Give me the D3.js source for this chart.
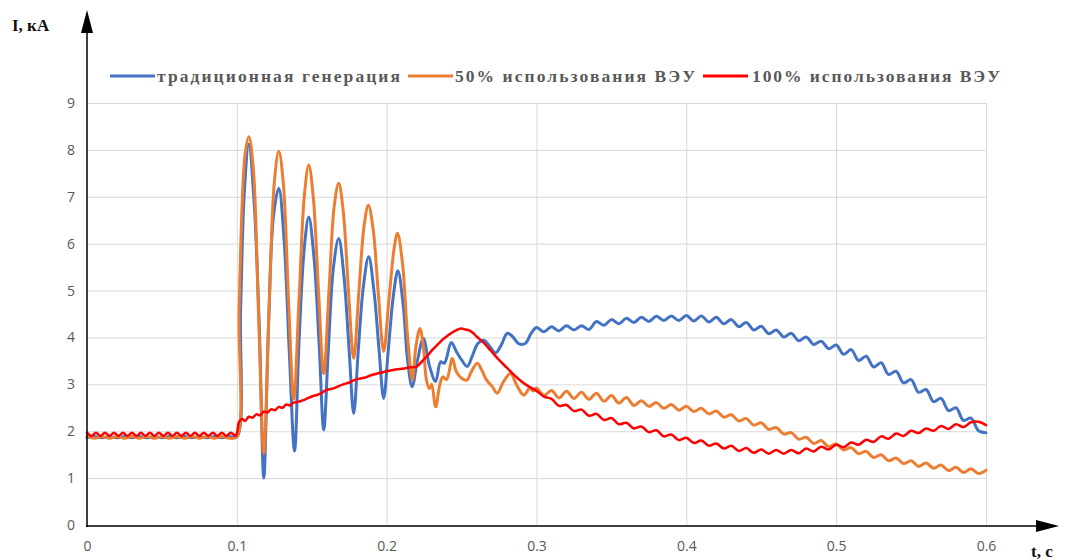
<!DOCTYPE html>
<html>
<head>
<meta charset="utf-8">
<script src="https://cdn.jsdelivr.net/npm/d3@7/dist/d3.min.js"></script>
<style>
  html, body { margin: 0; padding: 0; background: #fff; }
  svg { display: block; }
</style>
</head>
<body>
<svg id="chart" width="1073" height="560"></svg>
<script>
// Short-circuit current I (kA) versus time t (s) for three generation mixes.

const seriesLabels = ["традиционная генерация", "50% использования ВЭУ", "100% использования ВЭУ"];
const seriesColors = ["#4472C4", "#ED7D31", "#FF0000"];
const xTicks = [0, 0.1, 0.2, 0.3, 0.4, 0.5, 0.6];
const yTicks = [0, 1, 2, 3, 4, 5, 6, 7, 8, 9];
const yTitle = "I, кА";
const xTitle = "t, c";

// Traditional generation: [t, I]
const traditional = [
  [0.000, 1.86], [0.005, 1.89], [0.010, 1.86], [0.015, 1.89], [0.020, 1.86], [0.025, 1.89],
  [0.030, 1.86], [0.035, 1.89], [0.040, 1.86], [0.045, 1.89], [0.050, 1.86], [0.055, 1.89],
  [0.060, 1.86], [0.065, 1.89], [0.070, 1.86], [0.075, 1.89], [0.080, 1.86], [0.085, 1.89],
  [0.090, 1.86], [0.095, 1.89], [0.100, 1.88],
  [0.1025, 4.6], [0.105, 7.1], [0.108, 8.12], [0.1115, 6.9], [0.115, 4.2], [0.118, 1.00],
  [0.121, 4.1], [0.1245, 6.6], [0.128, 7.18], [0.1315, 6.1], [0.135, 3.7], [0.1385, 1.58],
  [0.1415, 3.9], [0.145, 5.9], [0.148, 6.57], [0.1515, 5.7], [0.155, 3.8], [0.158, 2.03],
  [0.161, 3.7], [0.1645, 5.5], [0.168, 6.11], [0.1715, 5.3], [0.175, 3.7], [0.178, 2.38],
  [0.181, 3.7], [0.1845, 5.1], [0.188, 5.72], [0.1915, 5.0], [0.195, 3.7], [0.198, 2.70],
  [0.201, 3.7], [0.2045, 4.9], [0.2075, 5.42], [0.211, 4.7], [0.214, 3.5], [0.217, 2.95],
  [0.2205, 3.5], [0.2245, 3.98], [0.2285, 3.4], [0.2327, 3.06], [0.236, 3.48], [0.2385, 3.45],
  [0.2431, 3.89], [0.2465, 3.70], [0.250, 3.52], [0.2538, 3.38], [0.257, 3.59], [0.2609, 3.87],
  [0.2649, 3.94], [0.2689, 3.80], [0.2727, 3.67], [0.2765, 3.84], [0.2805, 4.09], [0.284, 4.02],
  [0.288, 3.87], [0.2925, 3.87], [0.2965, 4.09],
  [0.300, 4.21], [0.305, 4.12], [0.310, 4.23], [0.315, 4.14], [0.320, 4.25], [0.325, 4.16],
  [0.330, 4.25], [0.335, 4.17], [0.340, 4.34], [0.345, 4.26], [0.350, 4.38], [0.355, 4.29],
  [0.360, 4.41], [0.365, 4.32], [0.370, 4.43], [0.375, 4.34], [0.380, 4.45], [0.385, 4.36],
  [0.390, 4.46], [0.395, 4.36], [0.400, 4.47], [0.405, 4.35], [0.410, 4.46], [0.415, 4.33],
  [0.420, 4.43], [0.425, 4.29], [0.430, 4.38], [0.435, 4.23], [0.440, 4.32], [0.445, 4.16],
  [0.450, 4.24], [0.455, 4.08], [0.460, 4.16], [0.465, 4.01], [0.470, 4.09], [0.475, 3.93],
  [0.480, 4.01], [0.485, 3.85], [0.490, 3.92], [0.495, 3.76], [0.500, 3.84], [0.505, 3.64],
  [0.510, 3.74], [0.515, 3.51], [0.520, 3.60], [0.525, 3.37], [0.530, 3.46], [0.535, 3.21],
  [0.540, 3.28], [0.545, 3.03], [0.550, 3.10], [0.555, 2.83], [0.560, 2.89], [0.565, 2.63],
  [0.570, 2.70], [0.575, 2.44], [0.580, 2.50], [0.585, 2.23], [0.590, 2.28], [0.595, 2.01],
  [0.600, 1.97]
];

// 50% wind turbine share: [t, I]
const halfWind = [
  [0.000, 1.89], [0.005, 1.85], [0.010, 1.89], [0.015, 1.85], [0.020, 1.89], [0.025, 1.85],
  [0.030, 1.89], [0.035, 1.85], [0.040, 1.89], [0.045, 1.85], [0.050, 1.89], [0.055, 1.85],
  [0.060, 1.89], [0.065, 1.85], [0.070, 1.89], [0.075, 1.85], [0.080, 1.89], [0.085, 1.85],
  [0.090, 1.89], [0.095, 1.85], [0.100, 1.88],
  [0.1015, 4.5], [0.1035, 6.8], [0.1055, 7.9], [0.108, 8.28], [0.111, 7.6], [0.1145, 4.5],
  [0.118, 1.52], [0.1215, 4.6], [0.125, 7.3], [0.128, 7.97], [0.131, 7.3], [0.1345, 4.8],
  [0.138, 2.68], [0.1415, 4.8], [0.145, 7.0], [0.148, 7.68], [0.151, 7.0], [0.1545, 5.0],
  [0.158, 3.23], [0.1615, 5.0], [0.165, 6.8], [0.168, 7.29], [0.171, 6.7], [0.1745, 5.0],
  [0.178, 3.55], [0.1815, 5.0], [0.185, 6.4], [0.1878, 6.82], [0.191, 6.3], [0.1945, 4.9],
  [0.198, 3.70], [0.2015, 4.8], [0.205, 5.9], [0.2072, 6.22], [0.2105, 5.6], [0.214, 4.0],
  [0.2172, 3.10], [0.2195, 3.8], [0.2222, 4.19], [0.2245, 3.8], [0.2265, 3.1], [0.2285, 2.91],
  [0.2300, 3.00], [0.2327, 2.52], [0.2355, 3.00], [0.2375, 3.16], [0.240, 3.10], [0.2438, 3.55],
  [0.2465, 3.27], [0.250, 3.13], [0.2535, 3.09], [0.2565, 3.27], [0.2605, 3.45], [0.2635, 3.30],
  [0.2665, 3.10], [0.2705, 2.95], [0.2738, 2.81], [0.278, 3.06], [0.2827, 3.23], [0.2865, 3.00],
  [0.2915, 2.77], [0.2955, 2.92], [0.2978, 2.86],
  [0.300, 2.92], [0.305, 2.76], [0.310, 2.87], [0.315, 2.71], [0.320, 2.85], [0.325, 2.70],
  [0.330, 2.83], [0.335, 2.68], [0.340, 2.81], [0.345, 2.64], [0.350, 2.76], [0.355, 2.60],
  [0.360, 2.72], [0.365, 2.55], [0.370, 2.65], [0.375, 2.53], [0.380, 2.61], [0.385, 2.49],
  [0.390, 2.57], [0.395, 2.45], [0.400, 2.53], [0.405, 2.42], [0.410, 2.49], [0.415, 2.37],
  [0.420, 2.43], [0.425, 2.30], [0.430, 2.35], [0.435, 2.22], [0.440, 2.27], [0.445, 2.13],
  [0.450, 2.18], [0.455, 2.04], [0.460, 2.08], [0.465, 1.94], [0.470, 1.97], [0.475, 1.83],
  [0.480, 1.87], [0.485, 1.74], [0.490, 1.80], [0.495, 1.67], [0.500, 1.73], [0.505, 1.60],
  [0.510, 1.65], [0.515, 1.52], [0.520, 1.57], [0.525, 1.44], [0.530, 1.50], [0.535, 1.37],
  [0.540, 1.43], [0.545, 1.31], [0.550, 1.37], [0.555, 1.25], [0.560, 1.32], [0.565, 1.21],
  [0.570, 1.28], [0.575, 1.16], [0.580, 1.23], [0.585, 1.12], [0.590, 1.20], [0.595, 1.10],
  [0.600, 1.17]
];

// 100% wind turbine share: [t, I]
const fullWind = [
  [0.000, 1.97], [0.003, 1.90], [0.006, 1.97], [0.009, 1.90], [0.012, 1.97], [0.015, 1.90],
  [0.018, 1.97], [0.021, 1.90], [0.024, 1.97], [0.027, 1.90], [0.030, 1.97], [0.033, 1.90],
  [0.036, 1.97], [0.039, 1.90], [0.042, 1.97], [0.045, 1.90], [0.048, 1.97], [0.051, 1.90],
  [0.054, 1.97], [0.057, 1.90], [0.060, 1.97], [0.063, 1.90], [0.066, 1.97], [0.069, 1.90],
  [0.072, 1.97], [0.075, 1.90], [0.078, 1.97], [0.081, 1.90], [0.084, 1.97], [0.087, 1.90],
  [0.090, 1.97], [0.093, 1.90], [0.096, 1.97], [0.099, 1.90],
  [0.100, 1.95], [0.1015, 2.20], [0.1035, 2.26], [0.1055, 2.22], [0.108, 2.31], [0.1105, 2.29],
  [0.113, 2.36], [0.1155, 2.34], [0.118, 2.42], [0.1205, 2.40], [0.123, 2.47], [0.1255, 2.45],
  [0.128, 2.52], [0.1305, 2.50], [0.133, 2.57], [0.1355, 2.55], [0.138, 2.61], [0.140, 2.62],
  [0.145, 2.67], [0.150, 2.74], [0.155, 2.79], [0.160, 2.88], [0.165, 2.92], [0.170, 2.99],
  [0.175, 3.04], [0.180, 3.11], [0.185, 3.14], [0.190, 3.20], [0.195, 3.24], [0.200, 3.28],
  [0.205, 3.31], [0.210, 3.33], [0.215, 3.36], [0.220, 3.38], [0.2225, 3.45], [0.225, 3.54],
  [0.2275, 3.62], [0.230, 3.72], [0.2325, 3.80], [0.235, 3.88], [0.2375, 3.96], [0.240, 4.02],
  [0.2425, 4.08], [0.245, 4.13], [0.2475, 4.17], [0.250, 4.19], [0.2525, 4.17], [0.255, 4.15],
  [0.2575, 4.10], [0.260, 4.02], [0.265, 3.88], [0.270, 3.70], [0.275, 3.52], [0.280, 3.36],
  [0.285, 3.20], [0.290, 3.06], [0.295, 2.95],
  [0.300, 2.86], [0.305, 2.74], [0.310, 2.69], [0.315, 2.54], [0.320, 2.56], [0.325, 2.43],
  [0.330, 2.46], [0.335, 2.33], [0.340, 2.37], [0.345, 2.24], [0.350, 2.28], [0.355, 2.15],
  [0.360, 2.18], [0.365, 2.06], [0.370, 2.10], [0.375, 1.98], [0.380, 2.02], [0.385, 1.89],
  [0.390, 1.93], [0.395, 1.81], [0.400, 1.86], [0.405, 1.75], [0.410, 1.80], [0.415, 1.69],
  [0.420, 1.74], [0.425, 1.63], [0.430, 1.69], [0.435, 1.58], [0.440, 1.64], [0.445, 1.54],
  [0.450, 1.61], [0.455, 1.52], [0.460, 1.60], [0.465, 1.52], [0.470, 1.60], [0.475, 1.53],
  [0.480, 1.63], [0.485, 1.57], [0.490, 1.67], [0.495, 1.61], [0.500, 1.71], [0.505, 1.66],
  [0.510, 1.76], [0.515, 1.71], [0.520, 1.82], [0.525, 1.77], [0.530, 1.89], [0.535, 1.84],
  [0.540, 1.95], [0.545, 1.90], [0.550, 2.01], [0.555, 1.96], [0.560, 2.06], [0.565, 2.01],
  [0.570, 2.11], [0.575, 2.05], [0.580, 2.15], [0.585, 2.09], [0.590, 2.19], [0.595, 2.20],
  [0.600, 2.13]
];

const seriesData = [traditional, halfWind, fullWind];

const svg = d3.select("#chart");

const x = d3.scaleLinear().domain([0, 0.6]).range([87, 986]);
const y = d3.scaleLinear().domain([0, 9]).range([525, 103]);

// Grid
const grid = svg.append("g").attr("class", "grid");
grid.append("g")
  .attr("transform", `translate(${x(0)},0)`)
  .call(d3.axisLeft(y).tickValues(yTicks.filter(v => v > 0)).tickSize(-(x(0.6) - x(0))).tickFormat(""))
  .call(g => g.select(".domain").remove())
  .call(g => g.selectAll("line").attr("stroke", "#d9d9d9").attr("stroke-width", 1));
grid.append("g")
  .attr("transform", `translate(0,${y(0)})`)
  .call(d3.axisBottom(x).tickValues(xTicks.filter(v => v > 0)).tickSize(-(y(0) - y(9))).tickFormat(""))
  .call(g => g.select(".domain").remove())
  .call(g => g.selectAll("line").attr("stroke", "#d9d9d9").attr("stroke-width", 1));

// Tick labels
const labelFont = "'Open Sans', 'DejaVu Sans', sans-serif";
svg.append("g")
  .attr("transform", `translate(${x(0)},0)`)
  .call(d3.axisLeft(y).tickValues(yTicks).tickSize(0).tickPadding(12).tickFormat(d3.format("d")))
  .call(g => g.select(".domain").remove())
  .call(g => g.selectAll("text").attr("fill", "#595959").style("font-family", labelFont).style("font-size", "14px"));
svg.append("g")
  .attr("transform", `translate(0,${y(0)})`)
  .call(d3.axisBottom(x).tickValues(xTicks).tickSize(0).tickPadding(16)
    .tickFormat(d => d === 0 ? "0" : d3.format(".1f")(d)))
  .call(g => g.select(".domain").remove())
  .call(g => g.selectAll("text").attr("fill", "#595959").style("font-family", labelFont).style("font-size", "14px"));

// Series lines
const line = d3.line()
  .x(d => x(d[0]))
  .y(d => y(d[1]))
  .curve(d3.curveCatmullRom.alpha(0.5));
const widths = [3, 3, 2.5];
svg.append("g").selectAll("path")
  .data(seriesData)
  .join("path")
  .attr("d", line)
  .attr("fill", "none")
  .attr("stroke", (d, i) => seriesColors[i])
  .attr("stroke-width", (d, i) => widths[i])
  .attr("stroke-linejoin", "round")
  .attr("stroke-linecap", "round");

// Axes with arrows
const axes = svg.append("g").attr("class", "axes");
axes.append("line").attr("x1", 87).attr("x2", 87).attr("y1", 527).attr("y2", 28)
  .attr("stroke", "#000").attr("stroke-width", 1.5);
axes.append("path").attr("d", "M87,10 L81,33 L93,33 Z").attr("fill", "#000");
axes.append("line").attr("x1", 86).attr("x2", 1040).attr("y1", 526).attr("y2", 526)
  .attr("stroke", "#000").attr("stroke-width", 1.5);
axes.append("path").attr("d", "M1059,526 L1036,520 L1036,532 Z").attr("fill", "#000");

// Axis titles
const titleFont = "'Liberation Serif', 'Times New Roman', serif";
svg.append("text").attr("x", 12).attr("y", 31).text(yTitle)
  .style("font-family", titleFont).style("font-weight", "bold").style("font-size", "17px").attr("fill", "#111");
svg.append("text").attr("x", 1031).attr("y", 557).text(xTitle)
  .style("font-family", titleFont).style("font-weight", "bold").style("font-size", "17px").attr("fill", "#111");

// Legend
const legendItems = [
  { lx: 110, tx: 157, w: 243 },
  { lx: 408, tx: 455, w: 240 },
  { lx: 703, tx: 752, w: 248 }
];
const legend = svg.append("g").attr("class", "legend");
legendItems.forEach((p, i) => {
  legend.append("line")
    .attr("x1", p.lx).attr("x2", p.lx + 45).attr("y1", 76).attr("y2", 76)
    .attr("stroke", seriesColors[i]).attr("stroke-width", 3);
  legend.append("text")
    .attr("x", p.tx).attr("y", 82)
    .attr("textLength", p.w).attr("lengthAdjust", "spacing")
    .text(seriesLabels[i])
    .style("font-family", titleFont).style("font-weight", "bold").style("font-size", "17.5px")
    .attr("fill", "#595959");
});
</script>
</body>
</html>
